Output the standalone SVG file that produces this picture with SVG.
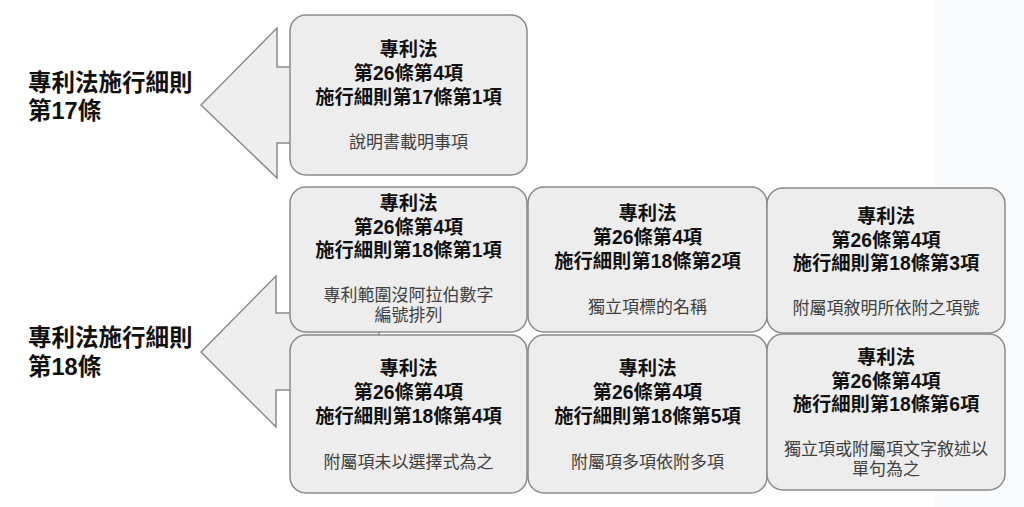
<svg xmlns="http://www.w3.org/2000/svg" width="1024" height="507" viewBox="0 0 1024 507">
<style>
.arrow{fill:#eeeeee;stroke:#8a8a8a;stroke-width:1.5}
.box{fill:#ededed;stroke:#8a8a8a;stroke-width:1.5}
.lbl{font-family:"Liberation Sans","Noto Sans CJK TC",sans-serif;font-weight:bold;font-size:23.5px;fill:#111}
.t{font-family:"Liberation Sans","Noto Sans CJK TC",sans-serif;font-weight:bold;font-size:19.3px;fill:#111;text-anchor:middle}
.d{font-family:"Liberation Sans","Noto Sans CJK TC",sans-serif;font-size:17px;fill:#404040;text-anchor:middle}
</style>
<rect x="0" y="0" width="1024" height="507" fill="#ffffff"/>
<rect x="935" y="0" width="89" height="507" fill="#f9fafc"/>
<g id="connectors">
<polygon class="arrow" points="201,105 277,28 277,67 380,67 380,143 277,143 277,178"/>
<polygon class="arrow" points="201,352 276,276 276,313 379,313 379,390 276,390 276,427"/>
</g>
<g id="label17">
<text class="lbl" x="28" y="91">專利法施行細則</text>
<text class="lbl" x="28" y="119">第17條</text>
</g>
<g id="label18">
<text class="lbl" x="28" y="346">專利法施行細則</text>
<text class="lbl" x="28" y="375">第18條</text>
</g>
<g id="nodeA">
<rect class="box" x="290" y="15" width="237" height="160" rx="16"/>
<text class="t" x="408.5" y="56">專利法</text>
<text class="t" x="408.5" y="80">第26條第4項</text>
<text class="t" x="408.5" y="104">施行細則第17條第1項</text>
<text class="d" x="408.5" y="148">說明書載明事項</text>
</g>
<g id="nodeB1">
<rect class="box" x="290" y="187" width="237" height="145" rx="16"/>
<text class="t" x="408.5" y="210">專利法</text>
<text class="t" x="408.5" y="234">第26條第4項</text>
<text class="t" x="408.5" y="257">施行細則第18條第1項</text>
<text class="d" x="408.5" y="301">專利範圍沒阿拉伯數字</text>
<text class="d" x="408.5" y="321">編號排列</text>
</g>
<g id="nodeB2">
<rect class="box" x="528" y="187" width="239" height="145" rx="16"/>
<text class="t" x="647.5" y="220">專利法</text>
<text class="t" x="647.5" y="244">第26條第4項</text>
<text class="t" x="647.5" y="268">施行細則第18條第2項</text>
<text class="d" x="647.5" y="313">獨立項標的名稱</text>
</g>
<g id="nodeB3">
<rect class="box" x="767" y="188" width="238" height="145" rx="16"/>
<text class="t" x="886" y="223">專利法</text>
<text class="t" x="886" y="247">第26條第4項</text>
<text class="t" x="886" y="270">施行細則第18條第3項</text>
<text class="d" x="886" y="314">附屬項敘明所依附之項號</text>
</g>
<g id="nodeC1">
<rect class="box" x="290" y="335" width="237" height="158" rx="16"/>
<text class="t" x="408.5" y="375">專利法</text>
<text class="t" x="408.5" y="399">第26條第4項</text>
<text class="t" x="408.5" y="423">施行細則第18條第4項</text>
<text class="d" x="408.5" y="468">附屬項未以選擇式為之</text>
</g>
<g id="nodeC2">
<rect class="box" x="528" y="335" width="239" height="158" rx="16"/>
<text class="t" x="647.5" y="375">專利法</text>
<text class="t" x="647.5" y="399">第26條第4項</text>
<text class="t" x="647.5" y="423">施行細則第18條第5項</text>
<text class="d" x="647.5" y="468">附屬項多項依附多項</text>
</g>
<g id="nodeC3">
<rect class="box" x="767" y="334" width="238" height="156" rx="16"/>
<text class="t" x="886" y="364">專利法</text>
<text class="t" x="886" y="388">第26條第4項</text>
<text class="t" x="886" y="411">施行細則第18條第6項</text>
<text class="d" x="886" y="455">獨立項或附屬項文字敘述以</text>
<text class="d" x="886" y="475">單句為之</text>
</g>
</svg>
